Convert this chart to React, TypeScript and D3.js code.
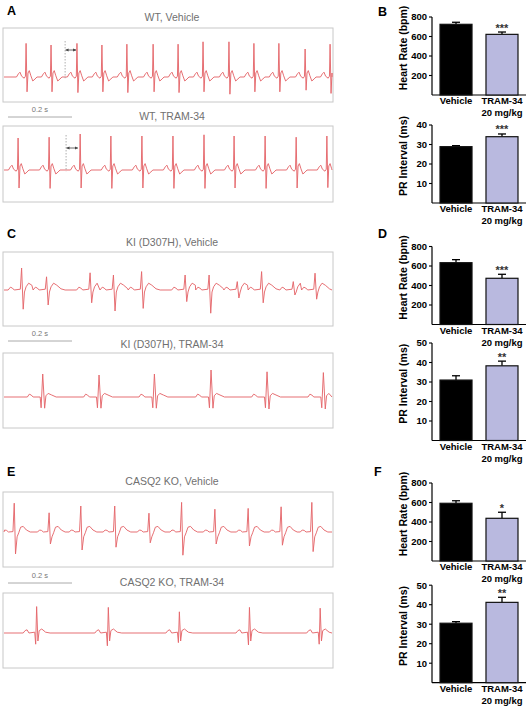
import React from "react";
import * as d3 from "d3";

const W = 530;
const H = 713;
const FONT = "Arial, 'Liberation Sans', Helvetica, sans-serif";

// ---------- ECG data (beat times in ms, R / S amplitudes in mV-like units) ----------
const wtVehBeats = [69, 147, 228, 306, 384, 466, 544, 622, 703, 781, 859, 941, 1019];
const wtVehR = [0.84, 0.8, 0.84, 0.8, 0.82, 0.82, 0.82, 0.88, 0.88, 0.84, 0.84, 0.7, 0.82];
const wtVehS = [-0.37, -0.37, -0.39, -0.37, -0.39, -0.37, -0.39, -0.37, -0.43, -0.37, -0.37, -0.33, -0.41];

const wtTramBeats = [44, 141, 238, 334, 431, 528, 625, 719, 816, 913, 1009];
const wtTramR = [0.8, 0.82, 0.9, 0.85, 0.85, 0.85, 0.88, 0.85, 0.85, 0.82, 0.85];
const wtTramS = [-0.45, -0.46, -0.45, -0.46, -0.45, -0.46, -0.46, -0.45, -0.46, -0.45, -0.44];

const kiVehBeats = [55, 133, 269, 342, 430, 566, 641, 729, 805, 904, 972];
const kiVehR = [0.55, 0.33, 0.43, 0.375, 0.46, 0.375, 0.375, 0.21, 0.46, 0.21, 0.42];
const kiVehS = [-0.48, -0.375, -0.32, -0.525, -0.46, -0.29, -0.58, -0.2, -0.32, -0.125, -0.23];

const kiTramBeats = [121, 297, 470, 647, 822, 998];
const kiTramR = [0.575, 0.55, 0.575, 0.675, 0.63, 0.61];
const kiTramS = [-0.28, -0.28, -0.28, -0.28, -0.3, -0.3];

const caVehBeats = [32, 141, 240, 346, 453, 555, 659, 763, 866, 962];
const caVehR = [0.72, 0.48, 0.65, 0.65, 0.47, 0.74, 0.57, 0.59, 0.63, 0.74];
const caVehS = [-0.55, -0.3, -0.45, -0.38, -0.27, -0.58, -0.3, -0.35, -0.33, -0.49];

const caTramBeats = [102, 326, 548, 767, 988];
const caTramR = [0.66, 0.64, 0.53, 0.64, 0.62];
const caTramS = [-0.28, -0.32, -0.24, -0.3, -0.28];

// beat templates: [dt ms, value, kind] kind 1 = x R, kind 2 = x S
const tplWT = [
  [-30, 0, 0], [-24, 0.08, 0], [-19, 0.12, 0], [-14, 0.02, 0], [-6, -0.03, 0], [-2, 0.02, 0],
  [0, 1, 1], [3, 1, 2], [6, 0.1, 0], [10, 0.16, 0], [15, 0.03, 0], [21, -0.1, 0], [28, -0.05, 0], [34, 0, 0],
];
const tplKIveh = [
  [-42, 0, 0], [-35, 0.07, 0], [-29, 0.05, 0], [-23, 0, 0], [-4, 0.02, 0],
  [0, 1, 1], [5, 1, 2], [9, -0.05, 0], [14, 0.08, 0], [22, 0.17, 0], [32, 0.12, 0], [45, 0.03, 0], [58, 0, 0],
];
const tplKItram = [
  [-48, 0, 0], [-42, 0.07, 0], [-36, 0.05, 0], [-30, 0, 0], [-8, 0, 0], [-5, -0.27, 0],
  [0, 1, 1], [6, 1, 2], [10, 0.03, 0], [17, 0.09, 0], [28, 0.05, 0], [42, 0, 0],
];
const tplCAveh = [
  [-36, 0, 0], [-30, 0.05, 0], [-24, 0.04, 0], [-18, 0, 0], [-4, 0.01, 0],
  [0, 1, 1], [4, 1, 2], [9, -0.12, 0], [14, -0.02, 0], [20, 0.12, 0], [28, 0.14, 0], [38, 0.05, 0], [50, 0, 0],
];
const tplCAtram = [
  [-42, 0, 0], [-36, 0.06, 0], [-30, 0.08, 0], [-24, 0, 0], [-6, 0.02, 0], [-3, 1, 2],
  [0, 1, 1], [4, -0.2, 0], [8, 0.06, 0], [16, 0.1, 0], [28, 0.02, 0], [42, 0, 0],
];

const traceTitles = [
  "WT, Vehicle", "WT, TRAM-34",
  "KI (D307H), Vehicle", "KI (D307H), TRAM-34",
  "CASQ2 KO, Vehicle", "CASQ2 KO, TRAM-34",
];

// PR interval annotation (WT traces): [t dashed, t arrow end, top value, arrow value]
const prMarkVeh = [191, 225, 0.9, 0.675];
const prMarkTram = [194, 231, 0.875, 0.55];

// ---------- bar chart data ----------
const groups = ["Vehicle", "TRAM-34"];
const groupSub = ["", "20 mg/kg"];
const hrMeans = [[725, 622], [634, 474], [592, 438]];
const hrSems = [[21, 24], [31, 41], [26, 62]];
const hrStars = [["", "***"], ["", "***"], ["", "*"]];
const prMeans = [[28.9, 34.0], [31.0, 38.3], [30.5, 41.2]];
const prSems = [[0.5, 1.4], [2.2, 2.4], [0.8, 2.6]];
const prStars = [["", "***"], ["", "**"], ["", "**"]];
const hrTicks = [200, 400, 600, 800];
const prTicksB = [10, 20, 30, 40];
const prTicksDF = [10, 20, 30, 40, 50];

// ---------- layout ----------
const boxes = [
  { top: 28, bottom: 102, base: 77 },
  { top: 126, bottom: 202, base: 170 },
  { top: 252, bottom: 326, base: 290 },
  { top: 353, bottom: 428, base: 397 },
  { top: 492, bottom: 567, base: 532 },
  { top: 593, bottom: 668, base: 633 },
];
const titleY = [21, 120, 246, 348, 485, 586];
const scaleBarY = [117, 341, 583];
const BOX_L = 3;
const BOX_R = 333;
const T_MAX = 1025;

function buildTrace(beats: number[], R: number[], S: number[], tpl: number[][]) {
  const pts: [number, number][] = [[0, 0]];
  const start = tpl[0][0];
  beats.forEach((b, i) => {
    const nextStart = i < beats.length - 1 ? beats[i + 1] + start : Infinity;
    tpl.forEach(([dt, v, k]) => {
      const t = b + dt;
      const prevEnd = pts[pts.length - 1][0];
      if (t <= prevEnd || t >= nextStart || t < 0 || t > T_MAX) return;
      const val = k === 1 ? v * R[i] : k === 2 ? v * Math.abs(S[i]) * -1 : v;
      pts.push([t, val]);
    });
  });
  pts.push([T_MAX, 0]);
  return pts;
}

const traces = [
  buildTrace(wtVehBeats, wtVehR, wtVehS, tplWT),
  buildTrace(wtTramBeats, wtTramR, wtTramS, tplWT),
  buildTrace(kiVehBeats, kiVehR, kiVehS, tplKIveh),
  buildTrace(kiTramBeats, kiTramR, kiTramS, tplKItram),
  buildTrace(caVehBeats, caVehR, caVehS, tplCAveh),
  buildTrace(caTramBeats, caTramR, caTramS, tplCAtram),
];

const xT = d3.scaleLinear().domain([0, T_MAX]).range([BOX_L + 1, BOX_R - 1]);

function BarChart(props: {
  top: number; max: number; pxPerUnit: number; ticks: number[]; title: string;
  means: number[]; sems: number[]; stars: string[];
}) {
  const { top, max, pxPerUnit, ticks, title, means, sems, stars } = props;
  const bottom = top + max * pxPerUnit;
  const y = d3.scaleLinear().domain([0, max]).range([bottom, top]);
  const x = d3.scaleBand().domain(groups).range([432, 526]).paddingInner(0.304).paddingOuter(0.174);
  const axX = 432;
  return (
    <g>
      <line x1={axX} x2={axX} y1={bottom} y2={top} stroke="#000" strokeWidth={1.2} />
      <line x1={axX} x2={526} y1={bottom} y2={bottom} stroke="#000" strokeWidth={1.2} />
      {ticks.map((t) => (
        <g key={t}>
          <line x1={axX - 3} x2={axX} y1={y(t)} y2={y(t)} stroke="#000" strokeWidth={1.1} />
          <text x={axX - 5} y={y(t) + 3.3} textAnchor="end" fontSize={9.5} fontWeight="bold" fontFamily={FONT}>{t}</text>
        </g>
      ))}
      <text transform={`translate(407,${(top + bottom) / 2 - 8}) rotate(-90)`} textAnchor="middle"
        fontSize={10.5} fontWeight="bold" fontFamily={FONT}>{title}</text>
      {groups.map((g, i) => {
        const bx = x(g)!;
        const bw = x.bandwidth();
        const cx = bx + bw / 2;
        const topV = y(means[i]);
        const errV = y(means[i] + sems[i]);
        return (
          <g key={g}>
            <line x1={cx} x2={cx} y1={topV} y2={errV} stroke="#000" strokeWidth={1.3} />
            <line x1={cx - 4} x2={cx + 4} y1={errV} y2={errV} stroke="#000" strokeWidth={1.3} />
            <rect x={bx} y={topV} width={bw} height={bottom - topV}
              fill={i === 0 ? "#000" : "#b9b9df"} stroke="#111" strokeWidth={1.2} />
            {stars[i] && (
              <text x={cx} y={errV - 0.5} textAnchor="middle" fontSize={11} fontWeight="bold" fill="#333" fontFamily={FONT}>{stars[i]}</text>
            )}
            <text x={cx} y={bottom + 9} textAnchor="middle" fontSize={9.5} fontWeight="bold" fontFamily={FONT}>{g}</text>
            {groupSub[i] && (
              <text x={cx} y={bottom + 21} textAnchor="middle" fontSize={9.5} fontWeight="bold" fontFamily={FONT}>{groupSub[i]}</text>
            )}
          </g>
        );
      })}
    </g>
  );
}

const hrTops = [17, 246.5, 483];
const prTops = [125, 343, 585.2];
const prMax = [40, 50, 50];

export default function App() {
  const lines = traces.map((pts, i) => {
    const b = boxes[i];
    const y = d3.scaleLinear().domain([0, 1]).range([b.base, b.base - 40]);
    const gen = d3.line<[number, number]>().x((d) => xT(d[0])).y((d) => y(d[1]));
    return { d: gen(pts) || "", y };
  });
  const sbLen = xT(200) - xT(0);
  const marks = [prMarkVeh, prMarkTram];
  return (
    <svg width={W} height={H} style={{ position: "absolute", left: 0, top: 0, background: "#fff" }}
      fontFamily={FONT}>
      <defs>
        <marker id="ah" viewBox="0 0 6 6" refX="5.5" refY="3" markerWidth="4" markerHeight="4" orient="auto-start-reverse">
          <path d="M0,0 L6,3 L0,6 z" fill="#444" />
        </marker>
      </defs>
      <rect x={0} y={0} width={W} height={H} fill="#fff" />
      {[["A", 7, 15], ["B", 378, 16], ["C", 7, 238], ["D", 378, 238], ["E", 7, 476], ["F", 374, 476]].map(([l, x, y]) => (
        <text key={l as string} x={x as number} y={y as number} fontSize={12.5} fontWeight="bold">{l}</text>
      ))}
      {boxes.map((b, i) => (
        <g key={i}>
          <text x={172} y={titleY[i]} textAnchor="middle" fontSize={10.5} fill="#707070">{traceTitles[i]}</text>
          <rect x={BOX_L} y={b.top} width={BOX_R - BOX_L} height={b.bottom - b.top} fill="none" stroke="#c8c8c8" strokeWidth={1} />
          <path d={lines[i].d} fill="none" stroke="#e5676b" strokeWidth={0.95} strokeLinejoin="round" />
        </g>
      ))}
      {marks.map((m, i) => {
        const y = lines[i].y;
        return (
          <g key={i}>
            <line x1={xT(m[0])} x2={xT(m[0])} y1={y(m[2])} y2={y(-0.03)} stroke="#9a9a9a" strokeWidth={0.8} strokeDasharray="1.5,1.5" />
            <line x1={xT(m[0]) + 0.5} x2={xT(m[1])} y1={y(m[3])} y2={y(m[3])} stroke="#444" strokeWidth={0.8}
              markerStart="url(#ah)" markerEnd="url(#ah)" />
          </g>
        );
      })}
      {scaleBarY.map((sy, i) => (
        <g key={i}>
          <text x={8 + sbLen / 2} y={sy - 5} textAnchor="middle" fontSize={7.5} fill="#777">0.2 s</text>
          <line x1={8} x2={8 + sbLen} y1={sy} y2={sy} stroke="#aaa" strokeWidth={1} />
        </g>
      ))}
      {[0, 1, 2].map((p) => (
        <g key={p}>
          <BarChart top={hrTops[p]} max={800} pxPerUnit={78 / 800} ticks={hrTicks} title="Heart Rate (bpm)"
            means={hrMeans[p]} sems={hrSems[p]} stars={hrStars[p]} />
          <BarChart top={prTops[p]} max={prMax[p]} pxPerUnit={1.95} ticks={p === 0 ? prTicksB : prTicksDF}
            title="PR Interval (ms)" means={prMeans[p]} sems={prSems[p]} stars={prStars[p]} />
        </g>
      ))}
    </svg>
  );
}
